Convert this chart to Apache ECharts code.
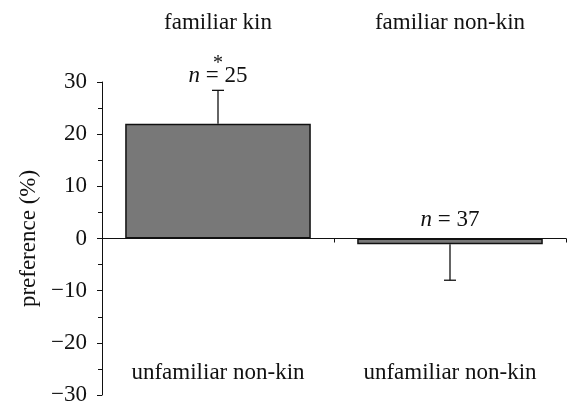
<!DOCTYPE html>
<html>
<head>
<meta charset="utf-8">
<script src="https://cdn.jsdelivr.net/npm/echarts@6/dist/echarts.min.js"></script>
<style>
  html, body { margin: 0; padding: 0; background: #fff; }
  #chart { width: 570px; height: 409px; }
</style>
</head>
<body>
<div id="chart"></div>
<script>
// === Data === //
const categories = ['familiar kin', 'familiar non-kin']
const rivals = ['unfamiliar non-kin', 'unfamiliar non-kin']
const preference = [22, -1.1]
const errorEnd = [28.4, -8]
const sampleSizes = [25, 37]
const significance = ['*', '']
const yTicks = [-30, 30, 10]

const font = 'Liberation Serif'
const ink = '#111'
const fs = 23

const myChart = echarts.init(document.getElementById('chart'))

const hidden = { show: false }

const option = {
  animation: false,
  textStyle: { fontFamily: font },
  grid: { left: 102, right: 4, top: 82, bottom: 14, containLabel: false },
  xAxis: [
    {
      type: 'category',
      data: categories,
      axisLine: { onZero: true, lineStyle: { color: ink, width: 1 } },
      axisTick: { show: true, length: 4, lineStyle: { color: ink } },
      axisLabel: hidden,
      splitLine: hidden
    },
    {
      type: 'category',
      position: 'top',
      data: categories,
      axisLine: hidden,
      axisTick: hidden,
      axisLabel: { margin: 48, fontSize: fs, color: ink, fontFamily: font }
    },
    {
      type: 'category',
      position: 'bottom',
      data: rivals,
      axisLine: { show: false, onZero: false },
      axisTick: hidden,
      axisLabel: { inside: true, margin: 11, fontSize: fs, color: ink, fontFamily: font }
    }
  ],
  yAxis: {
    type: 'value',
    min: yTicks[0],
    max: yTicks[1],
    interval: yTicks[2],
    name: 'preference (%)',
    nameLocation: 'middle',
    nameGap: 62,
    nameTextStyle: { fontSize: fs, color: ink, fontFamily: font },
    axisLine: { show: true, lineStyle: { color: ink, width: 1 } },
    axisTick: { show: true, length: 5, lineStyle: { color: ink } },
    minorTick: { show: true, splitNumber: 2, length: 4, lineStyle: { color: ink } },
    splitLine: hidden,
    axisLabel: {
      fontSize: fs,
      color: ink,
      fontFamily: font,
      margin: 15,
      formatter: v => (v < 0 ? '\u2212' + Math.abs(v) : String(v))
    }
  },
  series: [
    {
      type: 'bar',
      xAxisIndex: 0,
      data: preference,
      barCategoryGap: '20%',
      itemStyle: { color: '#787878', borderColor: ink, borderWidth: 1.5 }
    },
    {
      type: 'custom',
      xAxisIndex: 0,
      data: preference.map((v, i) => [i, v, errorEnd[i]]),
      z: 5,
      renderItem: (params, api) => {
        const i = api.value(0)
        const base = api.coord([i, api.value(1)])
        const end = api.coord([i, api.value(2)])
        const zero = api.coord([i, 0])
        const x = base[0]
        const capW = 6
        const labelY = Math.min(end[1], zero[1], base[1])
        // label sits closer to an error cap than to the zero line
        const gap = end[1] < base[1] ? 3 : 7
        const children = [
          { type: 'line', shape: { x1: x, y1: base[1], x2: x, y2: end[1] }, style: { stroke: ink, lineWidth: 1.3 } },
          { type: 'line', shape: { x1: x - capW, y1: end[1], x2: x + capW, y2: end[1] }, style: { stroke: ink, lineWidth: 1.3 } },
          {
            type: 'text',
            x: x,
            y: labelY - gap,
            style: {
              text: '{i|n} = ' + sampleSizes[i],
              rich: { i: { fontStyle: 'italic', fontSize: fs, fontFamily: font, fill: ink } },
              fontSize: fs,
              fontFamily: font,
              fill: ink,
              align: 'center',
              verticalAlign: 'bottom'
            }
          }
        ]
        if (significance[i]) {
          children.push({
            type: 'text',
            x: x,
            y: labelY - 17,
            style: {
              text: significance[i],
              fontSize: 20,
              fontFamily: font,
              fill: ink,
              align: 'center',
              verticalAlign: 'bottom'
            }
          })
        }
        return { type: 'group', children }
      }
    }
  ]
}

myChart.setOption(option)
</script>
</body>
</html>
